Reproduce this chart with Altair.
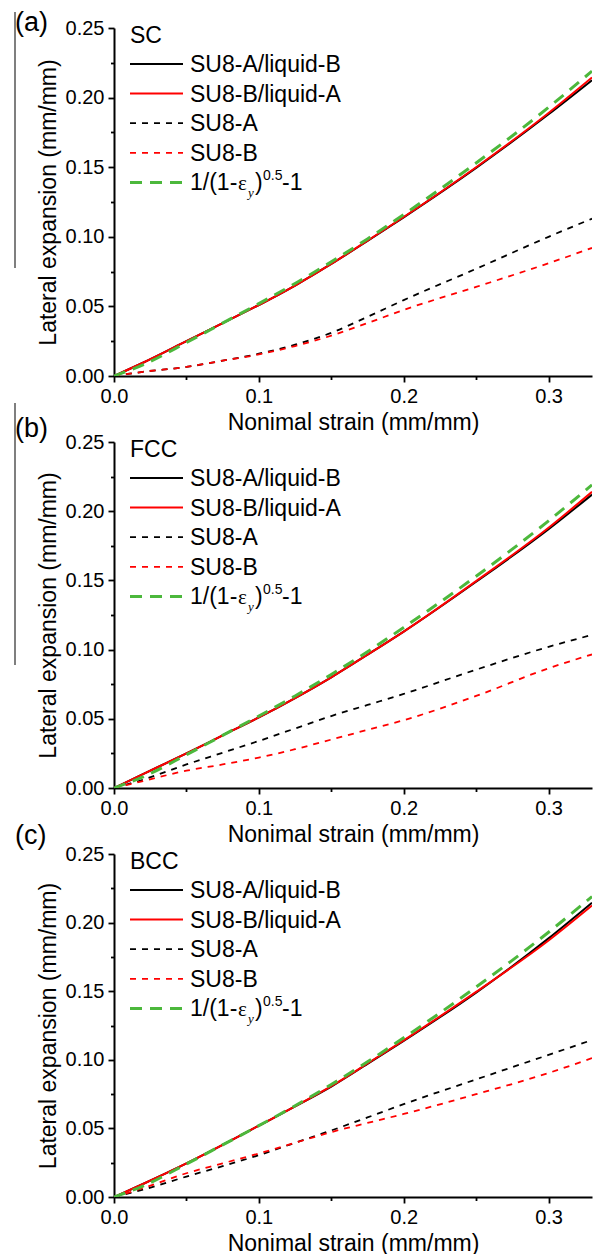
import altair as alt
import pandas as pd

# ---------------- data ----------------
strain = [0.0, 0.02, 0.05, 0.075, 0.10, 0.125, 0.15, 0.175, 0.20, 0.25, 0.30, 0.33]

# green dashed reference curve 1/(1-eps_y)^0.5-1
theory = [0.0, 0.008, 0.024, 0.038, 0.052, 0.0665, 0.082, 0.0985, 0.116, 0.153, 0.193, 0.219]

# (a) SC
sc_su8a_liqb = [0.0, 0.0095, 0.025, 0.038, 0.051, 0.065, 0.0805, 0.097, 0.114, 0.1495, 0.188, 0.2125]
sc_su8b_liqa = [0.0, 0.0095, 0.025, 0.038, 0.051, 0.065, 0.0805, 0.0972, 0.1142, 0.150, 0.189, 0.2145]
sc_su8a = [0.0, 0.003, 0.0065, 0.011, 0.016, 0.0225, 0.031, 0.0425, 0.0545, 0.077, 0.100, 0.113]
sc_su8b = [0.0, 0.003, 0.0065, 0.011, 0.0155, 0.0215, 0.029, 0.038, 0.0475, 0.064, 0.081, 0.092]

# (b) FCC
fcc_su8a_liqb = [0.0, 0.010, 0.025, 0.038, 0.051, 0.065, 0.080, 0.0963, 0.113, 0.149, 0.187, 0.212]
fcc_su8b_liqa = [0.0, 0.010, 0.025, 0.038, 0.051, 0.065, 0.080, 0.0963, 0.113, 0.1495, 0.188, 0.214]
fcc_su8a = [0.0, 0.006, 0.017, 0.0255, 0.034, 0.043, 0.052, 0.060, 0.068, 0.0855, 0.102, 0.1106]
fcc_su8b = [0.0, 0.005, 0.0125, 0.017, 0.022, 0.028, 0.035, 0.042, 0.049, 0.0665, 0.0865, 0.0965]

# (c) BCC
bcc_su8a_liqb = [0.0, 0.0095, 0.0245, 0.038, 0.052, 0.066, 0.0805, 0.097, 0.1138, 0.149, 0.1885, 0.2145]
bcc_su8b_liqa = [0.0, 0.0095, 0.0245, 0.038, 0.052, 0.066, 0.0808, 0.0973, 0.1142, 0.1495, 0.187, 0.2125]
bcc_su8a = [0.0, 0.0053, 0.0149, 0.0225, 0.0305, 0.0395, 0.0485, 0.058, 0.0677, 0.0857, 0.1036, 0.1144]
bcc_su8b = [0.0, 0.0065, 0.0173, 0.0245, 0.0317, 0.0395, 0.0473, 0.054, 0.0605, 0.0749, 0.0904, 0.1012]

panel_letters = ["(a)", "(b)", "(c)"]
structures = ["SC", "FCC", "BCC"]
legend_labels = ["SU8-A/liquid-B", "SU8-B/liquid-A", "SU8-A", "SU8-B"]
x_ticks = [0.0, 0.05, 0.10, 0.15, 0.20, 0.25, 0.30]
y_ticks = [0.0, 0.025, 0.05, 0.075, 0.10, 0.125, 0.15, 0.175, 0.20, 0.225, 0.25]
x_title = "Nonimal strain (mm/mm)"
y_title = "Lateral expansion (mm/mm)"

# ---------------- styles ----------------
FONT = "Liberation Sans"
SERIF = "Liberation Serif"
W = 478
series_style = [
    dict(color="#000000", strokeWidth=2),
    dict(color="#ff0000", strokeWidth=2),
    dict(color="#000000", strokeWidth=1.8, strokeDash=[6, 6]),
    dict(color="#ff0000", strokeWidth=1.8, strokeDash=[6, 6]),
    dict(color="#4cb83c", strokeWidth=3, strokeDash=[12, 8]),
]
ROW0, ROWSTEP = 36, 29.6
one = pd.DataFrame({"k": [0]})

X_MAJOR = "abs(datum.value*10 - round(datum.value*10)) < 1e-6"
Y_MAJOR = "abs(datum.value*20 - round(datum.value*20)) < 1e-6"


def make_panel(letter, struct, series, height, letter_y, art):
    xsc = alt.Scale(domain=[0, 0.33], nice=False, zero=False)
    ysc = alt.Scale(domain=[0, 0.25], nice=False, zero=False)
    xax = alt.Axis(values=x_ticks, title=x_title, labelFlush=False,
                   labelExpr=f"{X_MAJOR} ? format(datum.value, '.1f') : ''",
                   tickSize={"condition": {"test": X_MAJOR, "value": 6}, "value": 3.5})
    yax = alt.Axis(values=y_ticks, title=y_title, labelFlush=False,
                   labelExpr=f"{Y_MAJOR} ? format(datum.value, '.2f') : ''",
                   tickSize={"condition": {"test": Y_MAJOR, "value": 6}, "value": 3.5})
    layers = []
    for vals, st in zip(series, series_style):
        df = pd.DataFrame({"strain": strain, "expansion": vals})
        layers.append(
            alt.Chart(df).mark_line(interpolate="monotone", clip=True, **st).encode(
                x=alt.X("strain:Q", scale=xsc, axis=xax),
                y=alt.Y("expansion:Q", scale=ysc, axis=yax),
            )
        )
    # legend symbols
    for i, st in enumerate(series_style):
        yc = ROW0 + i * ROWSTEP
        layers.append(alt.Chart(one).mark_rule(**st).encode(
            x=alt.value(16), x2=alt.value(69), y=alt.value(yc)))
    # legend labels
    for i, lab in enumerate(legend_labels):
        yb = ROW0 + i * ROWSTEP + 8
        layers.append(alt.Chart(one).mark_text(
            text=lab, font=FONT, fontSize=23, align="left", baseline="alphabetic",
            color="black").encode(x=alt.value(76), y=alt.value(yb)))
    yb = ROW0 + 4 * ROWSTEP + 8
    pieces = [
        ("1/(1-", 76, 0, 23, FONT, "normal"),
        ("\u03b5", 124, 0, 21, SERIF, "normal"),
        ("y", 134, 7, 13, SERIF, "italic"),
        (")", 141, 0, 23, FONT, "normal"),
        ("0.5", 149, -10, 14, FONT, "normal"),
        ("-1", 168, 0, 23, FONT, "normal"),
    ]
    for txt, px, dy, fs, fnt, sty in pieces:
        layers.append(alt.Chart(one).mark_text(
            text=txt, font=fnt, fontSize=fs, fontStyle=sty, align="left",
            baseline="alphabetic", color="black").encode(
            x=alt.value(px), y=alt.value(yb + dy)))
    # legend title (structure)
    layers.append(alt.Chart(one).mark_text(
        text=struct, font=FONT, fontSize=23, align="left", baseline="alphabetic",
        color="black").encode(x=alt.value(16), y=alt.value(15)))
    # panel letter
    layers.append(alt.Chart(one).mark_text(
        text=letter, font=FONT, fontSize=27, align="left", baseline="middle",
        color="black").encode(x=alt.value(-99), y=alt.value(letter_y)))
    if art is not None:
        layers.append(alt.Chart(one).mark_rule(color="#555555", strokeWidth=1.5).encode(
            x=alt.value(-99), y=alt.value(art[0]), y2=alt.value(art[1])))
    return alt.layer(*layers).properties(width=W, height=height)


pa = make_panel(panel_letters[0], structures[0],
                [sc_su8a_liqb, sc_su8b_liqa, sc_su8a, sc_su8b, theory], 348, -5, (-16, 240))
pb = make_panel(panel_letters[1], structures[1],
                [fcc_su8a_liqb, fcc_su8b_liqa, fcc_su8a, fcc_su8b, theory], 346, -13, (-39, 223))
pc = make_panel(panel_letters[2], structures[2],
                [bcc_su8a_liqb, bcc_su8b_liqa, bcc_su8a, bcc_su8b, theory], 343, -18, None)

chart = (
    alt.vconcat(pa, pb, pc, spacing=66, bounds="flush")
    .properties(padding={"left": 6, "top": 1, "right": 5, "bottom": 5})
    .configure_view(stroke=None)
    .configure_axis(
        grid=False, domainColor="black", domainWidth=2, tickColor="black", tickWidth=1.8,
        labelFont=FONT, labelFontSize=20, labelColor="black", labelPadding=4,
        titleFont=FONT, titleFontSize=23, titleFontWeight="normal", titleColor="black",
        titlePadding=5,
    )
)

chart.save("out.html", embed_options={"renderer": "svg", "actions": False})
